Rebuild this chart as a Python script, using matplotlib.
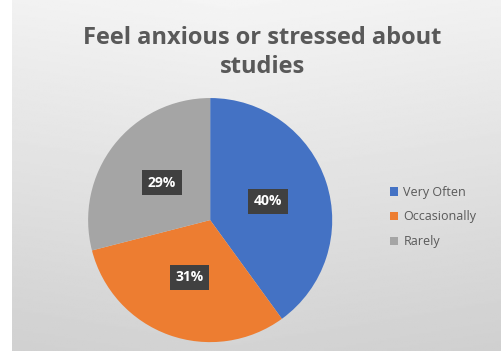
import numpy as np
import matplotlib.pyplot as plt
from matplotlib.patches import Patch

# data
labels = ['Very Often', 'Occasionally', 'Rarely']
shares = [40, 31, 29]
colors = ['#4472C4', '#ED7D31', '#A5A5A5']
title = 'Feel anxious or stressed about\nstudies'

fig = plt.figure(figsize=(5.01, 3.51), dpi=100)
fig.patch.set_facecolor('white')

# background panel with soft gradient
bg = fig.add_axes([0.024, 0.0, 0.976, 1.0])
bg.set_axis_off()
yy, xx = np.mgrid[0:1:200j, 0:1:200j]
grad = 0.96 - 0.13 * yy - 0.03 * np.abs(xx - 0.45)
bg.imshow(grad, cmap='gray', vmin=0, vmax=1, aspect='auto', extent=[0, 1, 0, 1])

ax = fig.add_axes([0.115, -0.062, 0.609, 0.87])
wedges, texts = ax.pie(shares, colors=colors, startangle=90, counterclock=False,
                       wedgeprops=dict(linewidth=0))
ax.set_xlim(-1.25, 1.25)
ax.set_ylim(-1.25, 1.25)
ax.set_aspect('equal')

for w, v in zip(wedges, shares):
    ang = np.deg2rad((w.theta1 + w.theta2) / 2)
    ax.text(0.5 * np.cos(ang), 0.5 * np.sin(ang), f'{v}%', ha='center', va='center',
            color='white', fontsize=10, fontweight='bold', family='Open Sans',
            bbox=dict(boxstyle='square,pad=0.4', fc='#404040', ec='none'))

fig.text(0.523, 0.85, title, ha='center', va='center', fontsize=17, fontweight='bold',
         color='#595959', family='Open Sans', linespacing=1.3)

handles = [Patch(facecolor=c, edgecolor='none') for c in colors]
leg = fig.legend(handles, labels, loc='center left', bbox_to_anchor=(0.755, 0.382), frameon=False,
                 handlelength=0.7, handleheight=0.7, handletextpad=0.4, labelspacing=0.95,
                 prop={'family': 'Open Sans', 'size': 9})
for t in leg.get_texts():
    t.set_color('#595959')

fig.savefig('out.png', dpi=100)
